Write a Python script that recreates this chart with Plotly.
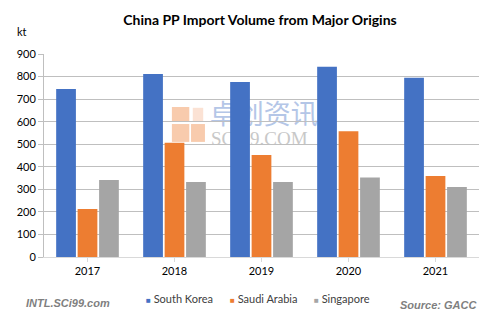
import plotly.graph_objects as go

years = ["2017", "2018", "2019", "2020", "2021"]
south_korea = [745, 811, 776, 844, 795]
saudi_arabia = [213, 507, 452, 558, 359]
singapore = [341, 333, 333, 352, 310]
series_names = ["South Korea", "Saudi Arabia", "Singapore"]
colors = ["#4472C4", "#ED7D31", "#A5A5A5"]
y_ticks = [0, 100, 200, 300, 400, 500, 600, 700, 800, 900]

FONT = "Lato, 'Open Sans', sans-serif"

fig = go.Figure()
for name, vals, col in zip(series_names, [south_korea, saudi_arabia, singapore], colors):
    fig.add_trace(go.Bar(x=years, y=vals, name=name, marker_color=col,
                         marker_line_width=0, showlegend=False))

# custom compact legend (paper coords: plot spans x 44..479 px, y 54..257 px)
legend_x = [0.231, 0.424, 0.615]
legend_ann = []
for name, col, lx in zip(series_names, colors, legend_x):
    legend_ann.append(dict(
        text=f'<span style="color:{col};font-size:8px">■</span> {name}',
        xref="paper", yref="paper", x=lx, y=-0.202, xanchor="left", yanchor="middle",
        showarrow=False, font=dict(family=FONT, size=11, color="#404040")))

# watermark (drawn below the bars and gridlines)
wm_shapes = []
for x0, x1, y0, y1, c in [(0.294, 0.334, 0.665, 0.739, "#F8CBAD"),
                          (0.294, 0.334, 0.567, 0.655, "#F8CBAD"),
                          (0.338, 0.370, 0.567, 0.655, "#F8CBAD"),
                          (0.342, 0.366, 0.670, 0.735, "#FBE2D4")]:
    wm_shapes.append(dict(type="rect", xref="paper", yref="paper", x0=x0, x1=x1,
                          y0=y0, y1=y1, fillcolor=c, line_width=0, layer="below"))
wm_shapes.append(dict(type="rect", xref="paper", yref="paper", x0=0.374, x1=0.90,
                      y0=0.640, y1=0.745, line_width=0, fillcolor="rgba(0,0,0,0)",
                      layer="below",
                      label=dict(text="卓创资讯", textposition="middle left",
                                 padding=0,
                                 font=dict(family="Noto Sans CJK SC", size=27,
                                           color="#B4C6E7"))))
wm_shapes.append(dict(type="rect", xref="paper", yref="paper", x0=0.377, x1=0.90,
                      y0=0.560, y1=0.630, line_width=0, fillcolor="rgba(0,0,0,0)",
                      layer="below",
                      label=dict(text="SCI99.COM", textposition="middle left",
                                 padding=0,
                                 font=dict(family="Liberation Serif", size=19,
                                           color="#C8C8C8"))))

fig.update_layout(
    width=500, height=323,
    margin=dict(l=44, r=21, t=54, b=66),
    paper_bgcolor="white", plot_bgcolor="white",
    barmode="group", bargap=0.26, bargroupgap=0.08,
    font=dict(family=FONT, size=11, color="#404040"),
    showlegend=False,
    title=dict(text="<b>China PP Import Volume from Major Origins</b>",
               x=0.52, xanchor="center", y=0.937, yanchor="middle",
               font=dict(family=FONT, size=14, color="#000000")),
    xaxis=dict(showline=True, linecolor="#D9D9D9", linewidth=1,
               ticks="outside", ticklen=4, tickcolor="#D9D9D9",
               tickfont=dict(size=11, color="#000000"), showgrid=False),
    yaxis=dict(range=[0, 900], tickvals=y_ticks, showline=True,
               linecolor="#BFBFBF", linewidth=1, ticks="outside", ticklen=5,
               tickcolor="#BFBFBF", gridcolor="#BFBFBF", gridwidth=1,
               tickfont=dict(size=11, color="#000000"), zeroline=False),
    annotations=legend_ann + [
        dict(text="kt", xref="paper", yref="paper", x=-0.05, y=1.11, xanchor="center",
             yanchor="middle", showarrow=False, font=dict(size=11, color="#000000")),
        dict(text="<b><i>INTL.SCi99.com</i></b>", xref="paper", yref="paper",
             x=-0.045, y=-0.225, xanchor="left", yanchor="middle", showarrow=False,
             font=dict(family="Liberation Sans, Arial", size=11, color="#7F7F7F")),
        dict(text="<b><i>Source: GACC</i></b>", xref="paper", yref="paper",
             x=1.0, y=-0.235, xanchor="right", yanchor="middle", showarrow=False,
             font=dict(family="Liberation Sans, Arial", size=11, color="#7F7F7F")),
    ],
    shapes=wm_shapes,
)

fig.write_html("out.html")
